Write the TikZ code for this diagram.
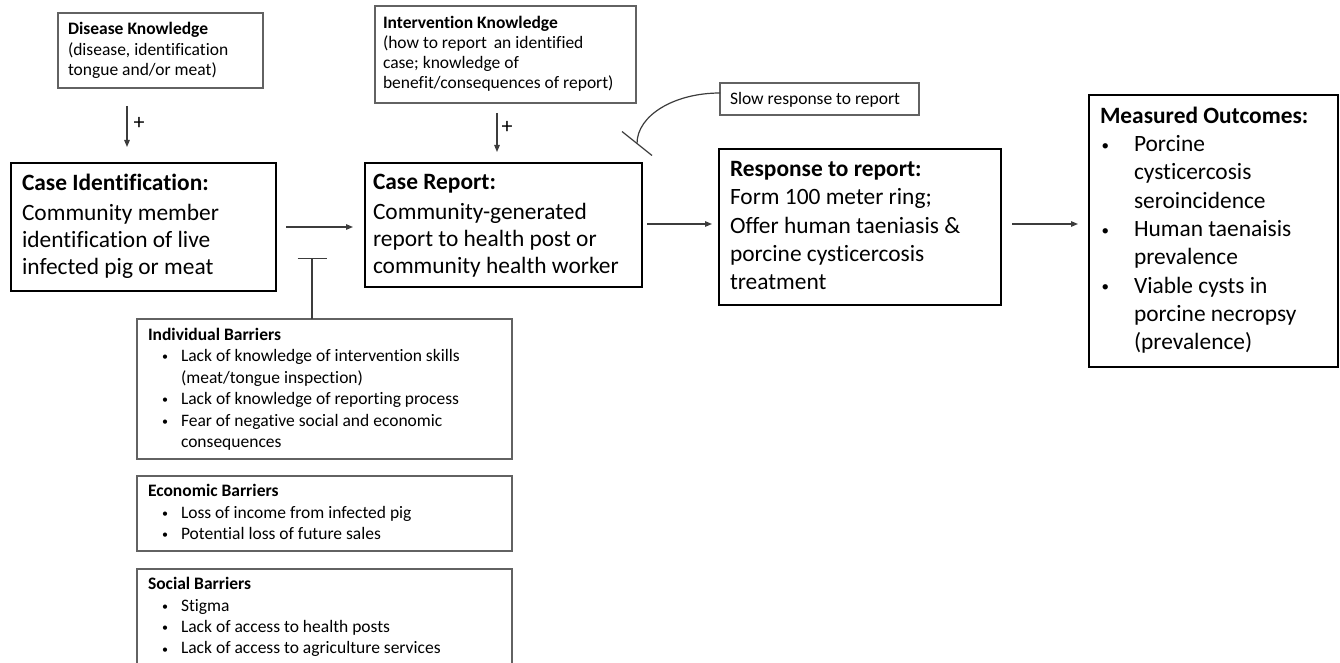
\documentclass[tikz,border=0pt]{standalone}
\usepackage{fontspec}
\setmainfont[Ligatures=NoCommon]{Carlito}
\usetikzlibrary{arrows.meta,calc}
\definecolor{linegray}{HTML}{3C3C3C}
\definecolor{boxgray}{HTML}{626262}
\newcommand\smalldot{\raisebox{0.6pt}{\fontsize{12}{12}\selectfont\textbullet}}
\newcommand\bigdot{\raisebox{1.5pt}{\fontsize{15}{15}\selectfont\textbullet}}
\newcommand\barbul{\hspace*{14pt}\makebox[19pt][l]{\smalldot}}
\newcommand\barcont{\hspace*{33pt}}
\newcommand\mobul{\hspace*{1.5pt}\makebox[32.5pt][l]{\bigdot}}
\newcommand\mocont{\hspace*{34pt}}
\begin{document}
\begin{tikzpicture}[x=1pt,y=-1pt,
  thinbox/.style={draw=boxgray, line width=1.1pt, rectangle, inner sep=0pt, outer sep=0pt, anchor=north west},
  thickbox/.style={draw=black, line width=2.8pt, rectangle, inner sep=0pt, outer sep=0pt, anchor=north west},
  small/.style={font=\fontsize{17.5}{20.8}\selectfont, anchor=north west, inner sep=0pt, outer sep=0pt, align=left},
  big/.style={font=\fontsize{23.4}{27}\selectfont, anchor=north west, inner sep=0pt, outer sep=0pt, align=left},
  conn/.style={draw=linegray, line width=1.2pt},
  arr/.style={conn, -{Triangle[length=7pt,width=5.5pt]}},
  plus/.style={font=\fontsize{22}{22}\selectfont, inner sep=0pt}
]
\useasboundingbox (0,0) rectangle (1340,663);
\clip (0,0) rectangle (1340,663);

% boxes
\node[thinbox, minimum width=205pt, minimum height=75pt] (dk) at (58,13) {};
\node[thinbox, minimum width=261pt, minimum height=97pt] (ik) at (375,6) {};
\node[thinbox, minimum width=199pt, minimum height=32pt] (slow) at (720,83) {};
\node[thickbox, minimum width=265pt, minimum height=128pt] (ci) at (11,163) {};
\node[thickbox, minimum width=277pt, minimum height=124pt] (cr) at (365,163) {};
\node[thickbox, minimum width=282pt, minimum height=156pt] (rr) at (719,149) {};
\node[thickbox, minimum width=249pt, minimum height=272pt] (mo) at (1089,95) {};
\node[thinbox, minimum width=375pt, minimum height=140pt] (ib) at (137,319) {};
\node[thinbox, minimum width=375pt, minimum height=75pt] (eb) at (137,476) {};
\node[thinbox, minimum width=375pt, minimum height=130pt] (sb) at (137,569) {};

% texts
\node[small] (dkt) at (68,19.7) {\strut\textbf{Disease Knowledge}\\(disease, identification\\tongue and/or meat)};
\node[small, font=\fontsize{17.5}{20}\selectfont] (ikt) at (383,14.3) {\strut\textbf{Intervention Knowledge}\\(how to report\, an identified\\case; knowledge of\\benefit/consequences of report)};
\node[small, anchor=base west] (slowt) at (730,104.3) {Slow response to report};
\node[big] (cit) at (22,172) {\strut\textbf{Case Identification:}\\[3pt]Community member\\identification of live\\infected pig or meat};
\node[big] (crt) at (373,170.6) {\strut\textbf{Case Report:}\\[3pt]Community-generated\\report to health post or\\community health worker};
\node[big, font=\fontsize{23.4}{28.2}\selectfont] (rrt) at (730,157) {\strut\textbf{Response to report:}\\Form 100 meter ring;\\Offer human taeniasis \&\\porcine cysticercosis\\treatment};
\node[big, font=\fontsize{23.4}{28.3}\selectfont] (mot) at (1100,103.5) {\strut\textbf{Measured Outcomes:}\\
\mobul Porcine\\\mocont cysticercosis\\\mocont seroincidence\\
\mobul Human taenaisis\\\mocont prevalence\\
\mobul Viable cysts in\\\mocont porcine necropsy\\\mocont (prevalence)};
\node[small, font=\fontsize{17.5}{21.5}\selectfont] (ibt) at (148,325) {\strut\textbf{Individual Barriers}\\
\barbul Lack of knowledge of intervention skills\\
\barcont (meat/tongue inspection)\\
\barbul Lack of knowledge of reporting process\\
\barbul Fear of negative social and economic\\
\barcont consequences};
\node[small, font=\fontsize{17.5}{21.3}\selectfont] (ebt) at (148,481.8) {\strut\textbf{Economic Barriers}\\
\barbul Loss of income from infected pig\\
\barbul Potential loss of future sales};
\node[small, font=\fontsize{17.5}{21.3}\selectfont] (sbt) at (148,575) {\strut\textbf{Social Barriers}\\
\barbul Stigma\\
\barbul Lack of access to health posts\\
\barbul Lack of access to agriculture services};

% connectors
\draw[arr] ($(dk.south west)+(69,18)$) -- ($(ci.north west)+(116,-16)$);
\node[plus] (p1) at (139,123) {+};
\draw[arr] ($(ik.south west)+(122,10)$) -- ($(cr.north west)+(132,-11)$);
\node[plus] (p2) at (507,127) {+};
\draw[arr] ([xshift=10pt]ci.east) -- ($(cr.west |- ci.east)+(-12,0)$);
\draw[arr] ([xshift=5pt,yshift=1pt]cr.east) -- ($(rr.west |- cr.east)+(-7,-1)$);
\draw[arr] ([xshift=11pt,yshift=3pt]rr.east) -- ($(mo.west |- rr.east)+(-11,-3)$);

% inhibition from barriers
\coordinate (tee) at (312,258);
\draw[conn, -{Bar[width=29pt]}] (ib.north -| tee) -- (tee);

% slow response inhibition
\coordinate (inh) at (637,143.5);
\draw[conn] ([yshift=6pt]slow.west) .. controls (674,93) and (637,115.6) .. (inh);
\draw[conn] ($(inh)+(-15,-12)$) -- ($(inh)+(15,12)$);
\end{tikzpicture}
\end{document}
